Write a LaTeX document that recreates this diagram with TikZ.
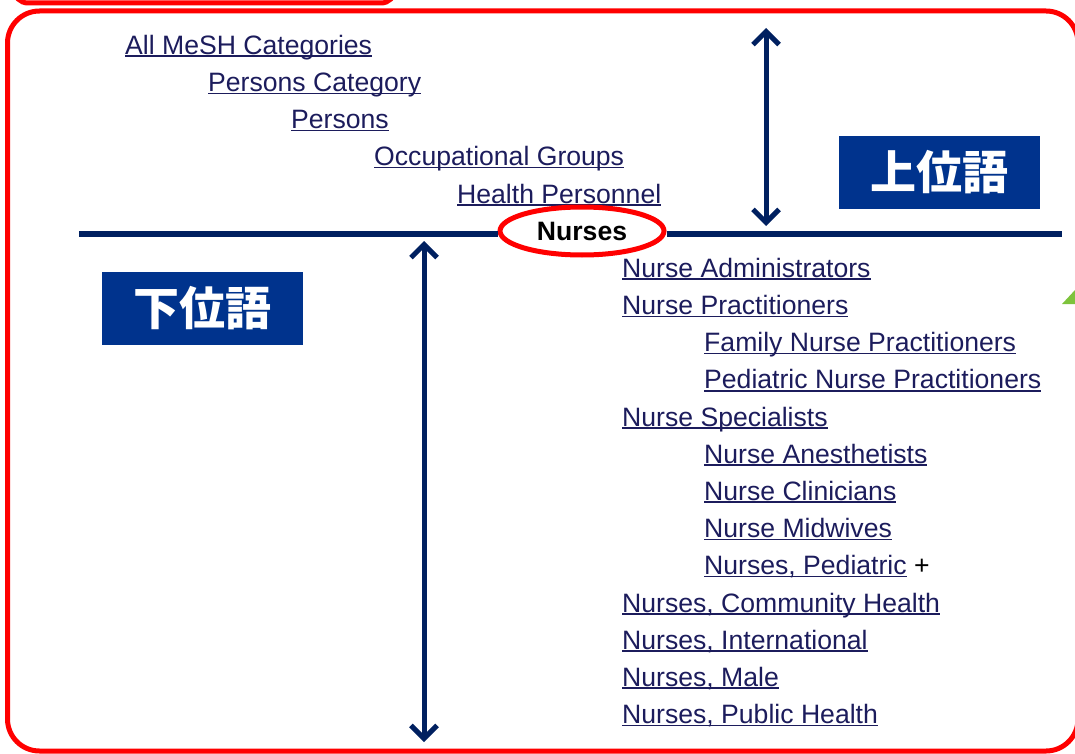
\documentclass[tikz,border=0pt]{standalone}
\usepackage{fontspec}
\setmainfont{Liberation Sans}
\newfontfamily\jpfont{Noto Sans CJK JP}
\usetikzlibrary{arrows.meta,shapes.geometric}
\definecolor{meshlink}{RGB}{28,28,92}
\definecolor{rulenavy}{RGB}{0,32,96}
\definecolor{termblue}{RGB}{0,51,141}
\definecolor{markred}{RGB}{255,0,0}
\definecolor{cornergreen}{RGB}{125,195,60}
\newcommand\lnk[1]{\setbox0\hbox{#1}\rlap{\rule[-2.6pt]{\wd0}{1.6pt}}\box0\relax}
\tikzset{
  meshterm/.style={anchor=base west, inner sep=0pt, text=meshlink, font=\fontsize{26.6}{30}\selectfont},
  termbox/.style={fill=termblue, text=white, inner sep=0pt, minimum width=201, minimum height=73, font=\jpfont\bfseries\fontsize{46}{50}\selectfont},
  rangearrow/.style={line width=5pt, color=rulenavy, {Straight Barb[length=13pt,width=26pt]}-{Straight Barb[length=13pt,width=26pt]}},
  redframe/.style={draw=markred, line width=5pt}
}
\begin{document}
\begin{tikzpicture}[x=1pt,y=-1pt]
			%%%%% START %%%%%
			\useasboundingbox (0,0) rectangle (1075,754);
			\clip (0,0) rectangle (1075,754);
			
			\draw[redframe, rounded corners=14] (14,-40) rectangle (395,3);
			\draw[redframe, rounded corners=32] (7.5,11) rectangle (1078,751);
			\fill[cornergreen] (1062,304) -- (1075,290) -- (1075,304) -- cycle;
			
			% broader terms
			\node[meshterm] (allmesh) at (125,54.4) {\lnk{All MeSH Categories}};
			\node[meshterm] (perscat) at (208,91.6) {\lnk{Persons Category}};
			\node[meshterm] (persons) at (291,128.7) {\lnk{Persons}};
			\node[meshterm] (occgroups) at (374,165.9) {\lnk{Occupational Groups}};
			\node[meshterm] (healthpers) at (457,203.1) {\lnk{Health Personnel}};
			
			\node[ellipse, redframe, inner sep=0pt, minimum width=164, minimum height=48, font=\bfseries\fontsize{26.6}{30}\selectfont] (nurses) at (582,231) {Nurses};
			
			% narrower terms
			\node[meshterm] (nadmin) at (622,277.4) {\lnk{Nurse Administrators}};
			\node[meshterm] (npract) at (622,314.6) {\lnk{Nurse Practitioners}};
			\node[meshterm] (famnp) at (704,351.8) {\lnk{Family Nurse Practitioners}};
			\node[meshterm] (pednp) at (704,388.9) {\lnk{Pediatric Nurse Practitioners}};
			\node[meshterm] (nspec) at (622,426.1) {\lnk{Nurse Specialists}};
			\node[meshterm] (nanest) at (704,463.3) {\lnk{Nurse Anesthetists}};
			\node[meshterm] (nclin) at (704,500.4) {\lnk{Nurse Clinicians}};
			\node[meshterm] (nmidw) at (704,537.6) {\lnk{Nurse Midwives}};
			\node[meshterm] (nped) at (704,574.8) {\lnk{Nurses, Pediatric} \textcolor{black}{+}};
			\node[meshterm] (ncomm) at (622,612.0) {\lnk{Nurses, Community Health}};
			\node[meshterm] (nintl) at (622,649.1) {\lnk{Nurses, International}};
			\node[meshterm] (nmale) at (622,686.3) {\lnk{Nurses, Male}};
			\node[meshterm] (npub) at (622,723.5) {\lnk{Nurses, Public Health}};
			
			\node[termbox] (broader) at (939.5,172.5) {上位語};
			\node[termbox] (narrower) at (202.5,308.5) {下位語};
			
			% dividing line and ranges
			\coordinate (lineL) at (79,234);
			\coordinate (lineR) at (1062,234);
			\draw[line width=5.5pt, rulenavy] (lineL) -- (lineL -| nurses.west);
			\draw[line width=5.5pt, rulenavy] (nurses.east |- lineR) -- (lineR);
			
			\coordinate (uptop) at (766,28);
			\coordinate (upbot) at (766,226);
			\draw[rangearrow] (upbot) -- (uptop);
			\coordinate (downtop) at (424,241);
			\coordinate (downbot) at (424,742);
			\draw[rangearrow] (downtop) -- (downbot);
			
			%%%%% END %%%%%
\end{tikzpicture}
\end{document}
